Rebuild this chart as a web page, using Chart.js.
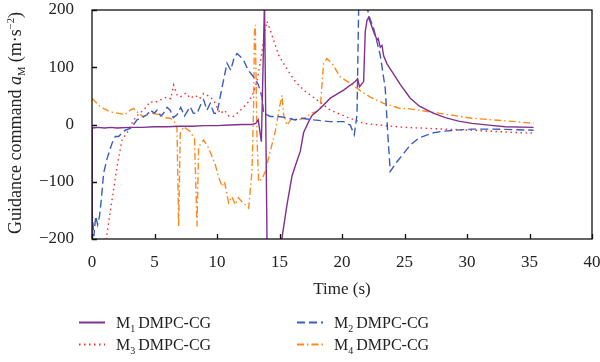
<!DOCTYPE html>
<html lang="en">
<head>
  <meta charset="UTF-8" />
  <title>Guidance command</title>
  <script src="https://cdn.jsdelivr.net/npm/chart.js"></script>
  <style>
    html, body { margin: 0; padding: 0; background: #fff; }
    #wrap { position: relative; width: 600px; height: 362px; }
  </style>
</head>
<body>
  <div id="wrap"><canvas id="chart" width="600" height="362"></canvas></div>

  <script>
    // axis ticks
    const xTicks = [0, 5, 10, 15, 20, 25, 30, 35, 40];
    const yTicks = [-200, -100, 0, 100, 200];

    // legend labels
    const seriesNames = ['M1 DMPC-CG', 'M2 DMPC-CG', 'M3 DMPC-CG', 'M4 DMPC-CG'];

    // M1 (solid purple)
    const m1T = [0, 0.02, 0.5, 1, 1.5, 2, 3, 4, 5, 6, 7, 8, 9, 10, 11, 12, 12.8, 13.1, 13.3, 13.55, 13.8, 14.02,
      15.15, 15.6, 16.0, 16.3, 16.66, 16.93, 17.33, 17.6, 18.26, 19.06, 20.13, 21.06, 21.25, 21.4, 21.73, 21.86,
      22.0, 22.13, 22.26, 22.53, 22.8, 22.9, 23.06, 23.2, 23.33, 23.6, 24.13, 24.66, 25.46, 26.2, 27.3, 28.26,
      29.33, 30.4, 31.73, 33.06, 35.33];
    const m1V = [-210, -6, -5, -6, -5, -6, -5, -5, -4, -4, -3, -3, -2, -2, -1, 0, 0, 2, 8, -30, 215, -240,
      -205, -140, -90, -70, -47, -14, 5, 16, 28, 46, 60, 75, 80, 66, 75, 162,
      182, 187, 179, 162, 148, 150, 135, 138, 120, 106, 88, 70, 46, 32, 20, 12,
      6, 2, -1, -4, -5];

    // M2 (dashed blue)
    const m2T = [0, 0.15, 0.3, 0.45, 0.6, 0.75, 0.93, 1.2, 1.6, 1.86, 2.13, 2.4, 2.66, 3.06, 3.33, 3.6, 4.13, 4.4,
      4.66, 5.0, 5.2, 5.5, 5.73, 6.0, 6.26, 6.5, 6.8, 7.1, 7.4, 7.86, 8.1, 8.4, 8.7, 8.93, 9.2, 9.46, 9.75, 10.0,
      10.26, 10.5, 10.8, 11.1, 11.35, 11.6, 11.9, 12.13, 12.5, 12.93, 13.3, 13.6, 13.73, 14.26, 14.93, 15.5, 16.26,
      16.66, 17.73, 19.06, 20.13, 20.66, 20.98, 21.2, 21.33, 21.45, 21.95, 22.13, 22.53, 23.06, 23.46, 23.65, 23.86,
      24.4, 25.06, 25.46, 26.13, 27.2, 28.0, 29.06, 30.4, 32.0, 33.86, 35.33];
    const m2V = [-150, -195, -160, -175, -160, -130, -85, -60, -33, -21, -21, -15, -10, -7, 0, 8, 14, 17,
      25, 20, 25, 15, 20, 30, 25, 12, 17, 30, 15, 31, 20, 19, 35, 43, 25, 37, 20, 19,
      49, 75, 107, 95, 115, 124, 118, 112, 95, 83, 70, 48, 20, 14, 14, 12, 8,
      11, 8, 5, 5, -1, -18, 17, 200, 215, 215, 191, 168, 121, 63, -12, -82,
      -65, -47, -36, -24, -15, -12, -10, -8, -8, -9, -10];

    // M3 (dotted red)
    const m3T = [1.1, 1.2, 1.6, 2.0, 2.4, 2.93, 3.33, 3.8, 4.13, 4.66, 5.0, 5.46, 6.0, 6.3, 6.53, 6.8, 7.06, 7.5,
      7.86, 8.26, 8.6, 8.93, 9.3, 9.73, 10.0, 10.26, 10.6, 10.93, 11.3, 11.73, 12.1, 12.53, 12.9, 13.2, 13.6, 13.8,
      14.0, 14.26, 14.93, 15.5, 16.26, 16.93, 18.0, 19.06, 20.4, 21.73, 23.06, 24.4, 25.06, 27.06, 30.4, 33.86, 35.33];
    const m3V = [-210, -190, -132, -74, -27, -10, 8, 20, 25, 40, 38, 43, 48, 45, 69, 52, 48, 55,
      46, 51, 45, 54, 50, 43, 30, 19, 25, 15, 14, 22, 30, 40, 55, 75, 127, 160,
      180, 165, 121, 100, 75, 60, 43, 25, 13, 2, -1, -4, -5, -7, -10, -14, -15];

    // M4 (dash-dot orange)
    const m4T = [0, 0.66, 1.46, 2.26, 2.6, 3.06, 3.33, 3.7, 4.13, 4.66, 4.93, 5.46, 5.8, 6.26, 6.6, 6.8, 6.93, 7.06,
      7.33, 7.86, 8.2, 8.4, 8.53, 8.93, 9.33, 9.86, 10.1, 10.4, 10.6, 10.93, 11.2, 11.46, 11.7, 12.0, 12.26, 12.53,
      12.8, 12.93, 13.0, 13.06, 13.2, 13.33, 13.6, 13.86, 14.26, 14.66, 15.0, 15.2, 15.33, 15.6, 16.0, 16.53, 17.2,
      17.46, 18.0, 18.26, 18.53, 18.8, 19.2, 19.86, 20.66, 21.6, 22.26, 23.33, 24.66, 25.2, 27.06, 30.4, 33.86, 35.33];
    const m4V = [46, 31, 22, 19, 17, 25, 28, 20, 13, 22, 19, 17, 12, 11, 5, -7, -178, -15,
      -4, -12, -25, -178, -39, -27, -41, -70, -90, -108, -100, -137, -126, -140, -128, -135, -140, -146,
      -82, 34, 162, 174, -24, -100, -95, -82, -47, -12, 30, 51, 17, -1, 11, 8, 13,
      19, 23, 30, 107, 115, 107, 83, 72, 57, 48, 37, 28, 28, 22, 11, 5, 2];

    const toPoints = (ts, vs) => ts.map((t, i) => ({ x: t, y: vs[i] }));

    const SERIF = "'Liberation Serif', 'Times New Roman', serif";

    const series = [
      { t: m1T, v: m1V, color: '#80308f', dash: [] },
      { t: m2T, v: m2V, color: '#3b5cbf', dash: [8, 4] },
      { t: m3T, v: m3V, color: '#ff2b2b', dash: [1.5, 3.5] },
      { t: m4T, v: m4V, color: '#ff8a1c', dash: [7, 3, 1.5, 3] }
    ];

    const datasets = series.map((s, i) => ({
      label: seriesNames[i],
      data: toPoints(s.t, s.v),
      borderColor: s.color,
      borderDash: s.dash,
      borderWidth: 1.4,
      pointRadius: 0,
      tension: 0,
      fill: false
    }));

    // frame, inward ticks, y title and legend
    const decorations = {
      id: 'decorations',
      afterDatasetsDraw(chart) {
        const { ctx, chartArea: a, scales } = chart;
        ctx.save();
        ctx.strokeStyle = '#111';
        ctx.lineWidth = 1.3;
        ctx.setLineDash([]);
        ctx.strokeRect(a.left, a.top, a.right - a.left, a.bottom - a.top);
        ctx.beginPath();
        xTicks.forEach(v => {
          const px = Math.round(scales.x.getPixelForValue(v)) + 0.5;
          ctx.moveTo(px, a.bottom);
          ctx.lineTo(px, a.bottom - 5);
        });
        yTicks.forEach(v => {
          const py = Math.round(scales.y.getPixelForValue(v)) + 0.5;
          ctx.moveTo(a.left, py);
          ctx.lineTo(a.left + 5, py);
        });
        ctx.stroke();
        ctx.restore();
      },
      afterDraw(chart) {
        const ctx = chart.ctx;
        ctx.save();
        ctx.fillStyle = '#222';

        // y axis title: Guidance command a_M (m·s^-2)
        const parts = [
          { s: 'Guidance command ', f: '18px ' + SERIF, dy: 0 },
          { s: 'a', f: 'italic 18px ' + SERIF, dy: 0 },
          { s: 'M', f: '10.5px ' + SERIF, dy: 4 },
          { s: ' (m·s', f: '18px ' + SERIF, dy: 0 },
          { s: '−2', f: '10.5px ' + SERIF, dy: -7 },
          { s: ')', f: '18px ' + SERIF, dy: 0 }
        ];
        let total = 0;
        parts.forEach(p => { ctx.font = p.f; p.w = ctx.measureText(p.s).width; total += p.w; });
        ctx.translate(15, 123);
        ctx.rotate(-Math.PI / 2);
        ctx.textBaseline = 'alphabetic';
        let x = -total / 2;
        parts.forEach(p => { ctx.font = p.f; ctx.fillText(p.s, x, 6 + p.dy); x += p.w; });
        ctx.restore();

        // legend, two columns
        const slots = [
          { x: 79, y: 322 }, { x: 297, y: 322 },
          { x: 79, y: 344 }, { x: 297, y: 344 }
        ];
        ctx.save();
        chart.data.datasets.forEach((ds, i) => {
          const s = slots[i];
          ctx.strokeStyle = ds.borderColor;
          ctx.lineWidth = 2;
          ctx.setLineDash(ds.borderDash);
          ctx.beginPath();
          ctx.moveTo(s.x, s.y + 0.5);
          ctx.lineTo(s.x + 26, s.y + 0.5);
          ctx.stroke();
          ctx.setLineDash([]);
          ctx.fillStyle = '#222';
          ctx.textBaseline = 'alphabetic';
          const [m, rest] = ds.label.split(' ');
          let tx = s.x + 37;
          ctx.font = '16px ' + SERIF;
          ctx.fillText('M', tx, s.y + 6);
          tx += ctx.measureText('M').width;
          ctx.font = '10px ' + SERIF;
          ctx.fillText(m.slice(1), tx, s.y + 10);
          tx += ctx.measureText(m.slice(1)).width + 3;
          ctx.font = '16px ' + SERIF;
          ctx.fillText(rest, tx, s.y + 6);
        });
        ctx.restore();
      }
    };

    new Chart(document.getElementById('chart'), {
      type: 'line',
      data: { datasets },
      options: {
        responsive: false,
        animation: false,
        devicePixelRatio: 1,
        layout: { padding: { top: 0, right: 8, left: 0, bottom: 0 } },
        plugins: { legend: { display: false }, tooltip: { enabled: false } },
        scales: {
          x: {
            type: 'linear',
            min: 0, max: 40,
            afterBuildTicks: s => { s.ticks = xTicks.map(v => ({ value: v })); },
            afterFit: s => { s.height = 123; s.paddingLeft = 0; s.paddingRight = 0; },
            grid: { display: false },
            border: { display: false },
            ticks: { color: '#222', font: { family: SERIF, size: 17 }, padding: 5 },
            title: {
              display: true, text: 'Time (s)', color: '#222',
              font: { family: SERIF, size: 17 },
              padding: { top: 0, bottom: 62 }
            }
          },
          y: {
            type: 'linear',
            min: -200, max: 200,
            afterBuildTicks: s => { s.ticks = yTicks.map(v => ({ value: v })); },
            afterFit: s => { s.width = 92; s.paddingTop = 10; s.paddingBottom = 0; },
            grid: { display: false },
            border: { display: false },
            ticks: {
              color: '#222', font: { family: SERIF, size: 17 }, padding: 10,
              callback: v => (v < 0 ? '−' + Math.abs(v) : String(v))
            }
          }
        }
      },
      plugins: [decorations]
    });
  </script>
</body>
</html>
